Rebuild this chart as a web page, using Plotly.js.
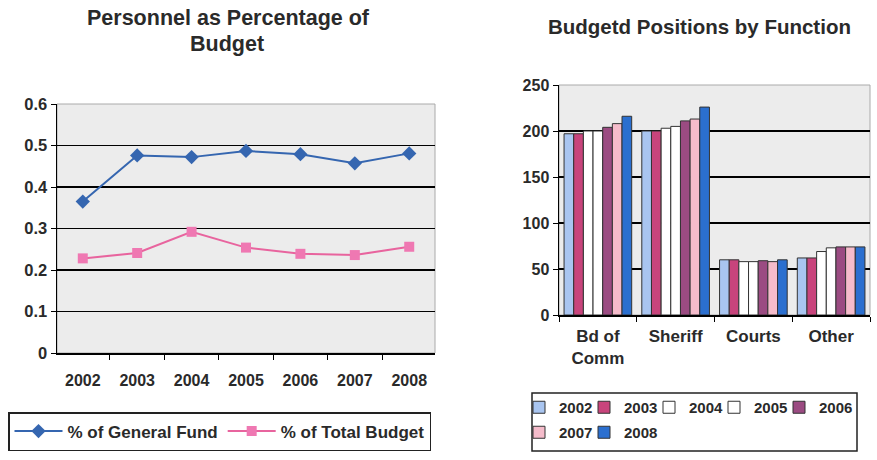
<!DOCTYPE html>
<html>
<head>
<meta charset="utf-8">
<script src="https://cdn.plot.ly/plotly-3.0.1.min.js"></script>
<style>html,body{margin:0;padding:0;background:#fff;}#chart{width:877px;height:460px;}</style>
</head>
<body>
<div id="chart"></div>
<script>
// Left chart data
var years = ['2002','2003','2004','2005','2006','2007','2008'];
var generalFund = [0.365, 0.476, 0.472, 0.487, 0.479, 0.457, 0.481];
var totalBudget = [0.228, 0.241, 0.292, 0.254, 0.239, 0.236, 0.256];
var lineNames = ['% of General Fund', '% of Total Budget'];

// Right chart data
var functions = ['Bd of<br>Comm', 'Sheriff', 'Courts', 'Other'];
var barYears = ['2002','2003','2004','2005','2006','2007','2008'];
var pos2002 = [197, 200, 60, 62];
var pos2003 = [197, 200, 60, 62];
var pos2004 = [200, 203, 58, 69];
var pos2005 = [200, 205, 58, 73];
var pos2006 = [204, 211, 59, 74];
var pos2007 = [208, 213, 58, 74];
var pos2008 = [216, 226, 60, 74];
var positions = [pos2002, pos2003, pos2004, pos2005, pos2006, pos2007, pos2008];
var barColors = ['#a9c5f0', '#c8447c', '#ffffff', '#ffffff', '#9b4b82', '#f5bccb', '#2b6fcf'];

var W = 877, H = 460;
function px(x){ return x / W; }
function py(y){ return 1 - y / H; }

var FONT = 'Liberation Sans, Arial, sans-serif';
var TXT = '#2a2a2a';
function f(size){ return {family: FONT, size: size, color: TXT, weight: 'bold'}; }

var traces = [
  {x: years, y: generalFund, name: lineNames[0], type: 'scatter', mode: 'lines+markers',
   line: {color: '#3566b0', width: 2}, marker: {symbol: 'diamond', size: 11, color: '#3566b0'},
   xaxis: 'x', yaxis: 'y', legend: 'legend'},
  {x: years, y: totalBudget, name: lineNames[1], type: 'scatter', mode: 'lines+markers',
   line: {color: '#e8649e', width: 2}, marker: {symbol: 'square', size: 10, color: '#ef78b2'},
   xaxis: 'x', yaxis: 'y', legend: 'legend'}
];

var layout = {
  width: W, height: H,
  margin: {l: 0, r: 0, t: 0, b: 0},
  paper_bgcolor: '#ffffff',
  plot_bgcolor: '#ececec',
  font: {family: FONT, color: TXT},
  barmode: 'group', bargap: 0.13, bargroupgap: 0,
  xaxis: {domain: [px(57), px(435)], anchor: 'y', type: 'category',
          showline: true, linecolor: '#000', linewidth: 1.5, ticks: 'outside', tickson: 'boundaries',
          ticklen: 5, tickcolor: '#000', tickfont: f(16), ticklabelstandoff: 12,
          showgrid: false, zeroline: false, fixedrange: true},
  yaxis: {domain: [py(353), py(104)], anchor: 'x', range: [0, 0.6], dtick: 0.1, tickformat: '.1~f',
          showline: true, linecolor: '#000', linewidth: 1.5, ticks: 'outside', ticklen: 5, tickcolor: '#000',
          tickfont: f(16.5), showgrid: true, gridcolor: '#000', gridwidth: 1.5, zeroline: false, fixedrange: true},
  xaxis2: {domain: [px(559), px(870)], anchor: 'y2', type: 'category',
           showline: true, linecolor: '#000', linewidth: 1.5, ticks: 'outside', tickson: 'boundaries',
           ticklen: 5, tickcolor: '#000', tickfont: f(17), ticklabelstandoff: 5,
           showgrid: false, zeroline: false, fixedrange: true},
  yaxis2: {domain: [py(315), py(85)], anchor: 'x2', range: [0, 250], dtick: 50,
           showline: true, linecolor: '#000', linewidth: 1.5, ticks: 'outside', ticklen: 5, tickcolor: '#000',
           tickfont: f(16), showgrid: true, gridcolor: '#000', gridwidth: 1.5, zeroline: false, fixedrange: true},
  legend: {orientation: 'h', x: px(8), y: py(412), xanchor: 'left', yanchor: 'top',
           bordercolor: '#222', borderwidth: 1.5, bgcolor: '#fff',
           font: f(17), itemwidth: 48, tracegroupgap: 0},
  shapes: [
    {type: 'rect', xref: 'paper', yref: 'paper', x0: px(532), x1: px(857), y0: py(451), y1: py(393),
     line: {color: '#222', width: 1.5}, fillcolor: 'rgba(0,0,0,0)', layer: 'above'},
    {type: 'rect', xref: 'paper', yref: 'paper', x0: px(57), x1: px(435), y0: py(353), y1: py(104),
     line: {color: '#aaaaaa', width: 1}, fillcolor: 'rgba(0,0,0,0)', layer: 'below'},
    {type: 'rect', xref: 'paper', yref: 'paper', x0: px(559), x1: px(870), y0: py(315), y1: py(85),
     line: {color: '#aaaaaa', width: 1}, fillcolor: 'rgba(0,0,0,0)', layer: 'below'}
  ],
  annotations: [
    {text: 'Personnel as Percentage of', xref: 'paper', yref: 'paper', x: px(228), y: py(18),
     xanchor: 'center', yanchor: 'middle', showarrow: false, font: f(21.5)},
    {text: 'Budget', xref: 'paper', yref: 'paper', x: px(227), y: py(44),
     xanchor: 'center', yanchor: 'middle', showarrow: false, font: f(21.5)},
    {text: 'Budgetd Positions by Function', xref: 'paper', yref: 'paper', x: px(699), y: py(26),
     xanchor: 'center', yanchor: 'middle', showarrow: false, font: f(20.5)}
  ]
};

// one legend per bar series, laid out as in the reference (5 on row 1, 2 on row 2)
var legX = [519, 584, 649, 714, 779, 519, 584];
var legY = [391, 391, 391, 391, 391, 416, 416];
for (var i = 0; i < barYears.length; i++) {
  var key = 'legend' + (i + 2);
  traces.push({
    x: functions, y: positions[i], name: barYears[i], type: 'bar',
    marker: {color: barColors[i], line: {color: '#333333', width: 1}},
    xaxis: 'x2', yaxis: 'y2', legend: key
  });
  layout[key] = {orientation: 'h', x: px(legX[i]), y: py(legY[i]), xanchor: 'left', yanchor: 'top',
                 borderwidth: 0, bgcolor: 'rgba(0,0,0,0)', font: f(15), itemwidth: 30};
}

Plotly.newPlot('chart', traces, layout, {displayModeBar: false, staticPlot: true});
</script>
</body>
</html>
